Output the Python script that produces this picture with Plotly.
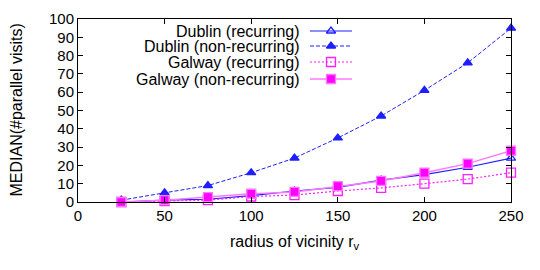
import plotly.graph_objects as go

radius = [25, 50, 75, 100, 125, 150, 175, 200, 225, 250]
dublin_rec = [0, 1, 1.5, 3.5, 6, 8, 12, 15, 19, 24]
dublin_nonrec = [1, 5, 9, 16, 24, 35, 47, 61, 76, 95]
galway_rec = [0, 0.5, 1, 3, 3.8, 6, 7.7, 10, 12.5, 16]
galway_nonrec = [0, 1, 2.7, 4.5, 5.5, 8.7, 11.5, 16, 21, 28]

x_ticks = [0, 50, 100, 150, 200, 250]
y_ticks = [0, 10, 20, 30, 40, 50, 60, 70, 80, 90, 100]

names = ["Dublin (recurring)", "Dublin (non-recurring)",
         "Galway (recurring)", "Galway (non-recurring)"]
values = [dublin_rec, dublin_nonrec, galway_rec, galway_nonrec]
styles = [
    dict(color="rgb(30,30,255)", dash="solid", width=1.2, symbol="triangle-up-open", msize=8),
    dict(color="rgb(30,30,255)", dash="4px,2px", width=1.0, symbol="triangle-up", msize=8),
    dict(color="rgb(255,30,255)", dash="2px,2px", width=1.2, symbol="square-open", msize=9),
    dict(color="rgb(255,120,255)", dash="solid", width=1.4, symbol="square", msize=9),
]

FONT = "Liberation Sans, Arial, sans-serif"
# page pixel geometry of the plot area (page has an 8px body margin)
PX_L, PX_R, PX_T, PX_B = 78, 511, 19, 202
OFF = 8
W, H = 540, 270


def paper_x(px):
    return (px - PX_L) / (PX_R - PX_L)


def paper_y(py):
    return (PX_B - py) / (PX_B - PX_T)


fig = go.Figure()

for name, ys, st in zip(names, values, styles):
    fig.add_trace(go.Scatter(
        x=radius, y=ys, mode="lines+markers", name=name, showlegend=False,
        line=dict(color=st["color"], dash=st["dash"], width=st["width"]),
        marker=dict(symbol=st["symbol"], size=st["msize"],
                    color=("rgb(255,0,255)" if st["symbol"] == "square" else st["color"]),
                    line=dict(color=st["color"], width=1.3)),
        cliponaxis=False,
    ))

# gnuplot-style key (text right-aligned, sample on the right), in pixel overlay coords
key_rows = [31, 46, 62, 79]
for name, st, yk in zip(names, styles, key_rows):
    fig.add_trace(go.Scatter(
        x=[310, 352], y=[yk, yk], mode="lines", xaxis="x2", yaxis="y2", showlegend=False,
        line=dict(color=st["color"], dash=st["dash"], width=st["width"]), hoverinfo="skip"))
    fig.add_trace(go.Scatter(
        x=[331], y=[yk], mode="markers", xaxis="x2", yaxis="y2", showlegend=False,
        marker=dict(symbol=st["symbol"], size=st["msize"],
                    color=("rgb(255,0,255)" if st["symbol"] == "square" else st["color"]),
                    line=dict(color=st["color"], width=1.3)), hoverinfo="skip"))
    fig.add_annotation(x=301, y=yk, xref="x2", yref="y2", text=name, showarrow=False,
                       xanchor="right", yanchor="middle", borderpad=0,
                       font=dict(size=16, color="black", family=FONT))

axis_common = dict(showgrid=False, zeroline=False, showline=True, linecolor="black", linewidth=1,
                   mirror="ticks", ticks="inside", ticklen=5, tickcolor="black", automargin=False,
                   tickfont=dict(size=15, color="black", family=FONT))

fig.add_annotation(x=0.5, y=paper_y(242), xref="paper", yref="paper",
                   text="radius of vicinity r<sub>v</sub>", borderpad=0,
                   showarrow=False, xanchor="center", yanchor="middle",
                   font=dict(size=16, color="black", family=FONT))
fig.add_annotation(x=paper_x(16), y=0.5, xref="paper", yref="paper", text="MEDIAN(#parallel visits)",
                   showarrow=False, xanchor="center", yanchor="middle", textangle=-90, borderpad=0,
                   font=dict(size=16, color="black", family=FONT))

fig.update_layout(
    width=W, height=H,
    margin=dict(l=PX_L - OFF, r=W + OFF - PX_R, t=PX_T - OFF, b=H + OFF - PX_B),
    paper_bgcolor="white", plot_bgcolor="white",
    font=dict(family=FONT, color="black"),
    xaxis=dict(range=[0, 250], tickvals=x_ticks, **axis_common),
    yaxis=dict(range=[0, 100], tickvals=y_ticks, **axis_common),
    xaxis2=dict(range=[PX_L, PX_R], overlaying="x", visible=False, fixedrange=True),
    yaxis2=dict(range=[PX_B, PX_T], overlaying="y", visible=False, fixedrange=True),
)

fig.write_html("out.html")
